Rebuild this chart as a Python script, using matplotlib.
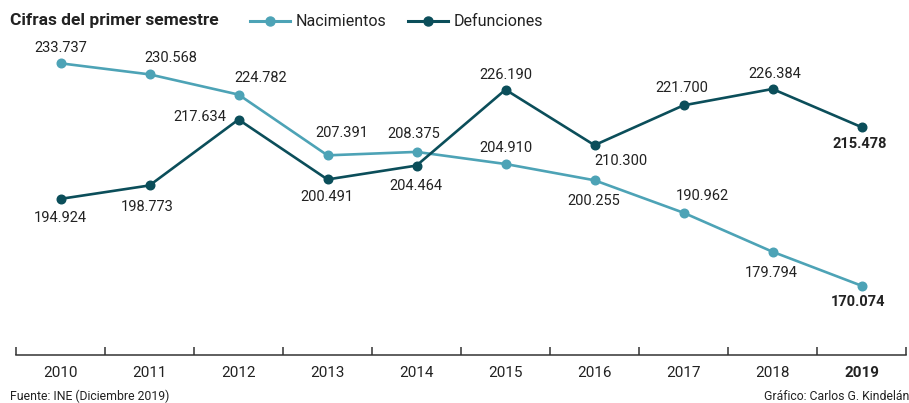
import matplotlib
matplotlib.use("Agg")
import matplotlib.pyplot as plt
from matplotlib.lines import Line2D

years = ["2010", "2011", "2012", "2013", "2014", "2015", "2016", "2017", "2018", "2019"]
nacimientos = [233737, 230568, 224782, 207391, 208375, 204910, 200255, 190962, 179794, 170074]
defunciones = [194924, 198773, 217634, 200491, 204464, 226190, 210300, 221700, 226384, 215478]

# label offsets in pixels (dx, dy, ha)
nac_off = [(0, 15, 'center'), (21, 16, 'center'), (22, 17, 'center'), (14, 22, 'center'),
           (-3, 18, 'center'), (0, 16, 'center'), (-1, -21, 'center'), (19, 17, 'center'),
           (-1, -21, 'center'), (-3, -16, 'center')]
def_off = [(0, -19, 'center'), (-2, -22, 'center'), (-12, 3, 'right'), (-1, -18, 'center'),
           (-1, -20, 'center'), (0, 15, 'center'), (26, -16, 'center'), (-2, 17, 'center'),
           (2, 15, 'center'), (-2, -17, 'center')]

def fmt(v):
    return f"{v:,}".replace(",", ".")

c_nac = "#4da3b6"
c_def = "#0b4e5a"
txt = "#222222"

plt.rcParams['font.family'] = ['Roboto', 'DejaVu Sans']

fig = plt.figure(figsize=(9.09, 4.03), dpi=100)
ax_top_px, ax_bot_px = 40, 355
ax = fig.add_axes([16/909, 1 - ax_bot_px/403, 890/909, (ax_bot_px - ax_top_px)/403])
x = list(range(len(years)))

ax.plot(x, nacimientos, color=c_nac, lw=1.9, marker='o', ms=6.2, zorder=3, clip_on=False)
ax.plot(x, defunciones, color=c_def, lw=1.9, marker='o', ms=6.2, zorder=3, clip_on=False)

def label(series, offs):
    for i, v in enumerate(series):
        dx, dy, ha = offs[i]
        bold = i == len(years) - 1
        ax.annotate(fmt(v), (i, v), xytext=(dx, dy), textcoords='offset pixels',
                    ha=ha, va='center', fontsize=10.5, color=txt,
                    fontweight='bold' if bold else 'normal')

label(nacimientos, nac_off)
label(defunciones, def_off)

pxk = 3.4934  # px per 1000
ymax = 233737 + (63.3 - ax_top_px) / pxk * 1000
ymin = 233737 - (ax_bot_px - 63.3) / pxk * 1000
ax.set_ylim(ymin, ymax)
ax.set_xlim(-0.5, len(years) - 0.5)

for s in ['top', 'right', 'left']:
    ax.spines[s].set_visible(False)
ax.spines['bottom'].set_color('#333333')
ax.spines['bottom'].set_linewidth(1.1)
ax.set_yticks([])
ax.set_xticks([i - 0.5 for i in range(len(years) + 1)])
ax.set_xticklabels([])
ax.tick_params(axis='x', direction='in', length=6, width=1.1, color='#333333')
for i, y in enumerate(years):
    ax.text(i, -18 / (ax_bot_px - ax_top_px), y, transform=ax.get_xaxis_transform(),
            ha='center', va='center', fontsize=11, color=txt,
            fontweight='bold' if i == len(years) - 1 else 'normal')

# title and legend
yy = 1 - 21/403
fig.text(10/909, yy, "Cifras del primer semestre", fontsize=12.5, fontweight='bold',
         color=txt, va='center', ha='left')
for (x0, x1, col, lab) in [(250, 290, c_nac, "Nacimientos"), (408, 448, c_def, "Defunciones")]:
    fig.add_artist(Line2D([x0/909, x1/909], [yy, yy], color=col, lw=2.2, transform=fig.transFigure))
    fig.add_artist(Line2D([(x0 + x1)/2/909], [yy], color=col, marker='o', ms=6.5,
                          transform=fig.transFigure))
    fig.text((x1 + 6)/909, yy, lab, fontsize=11.5, color=txt, va='center', ha='left')

fig.text(10/909, 1 - 396/403, "Fuente: INE (Diciembre 2019)", fontsize=8.8, color=txt,
         va='center', ha='left')
fig.text(1.0, 1 - 396/403, "Gráfico: Carlos G. Kindelán", fontsize=8.8, color=txt,
         va='center', ha='right')

fig.savefig("out.png", dpi=100)
